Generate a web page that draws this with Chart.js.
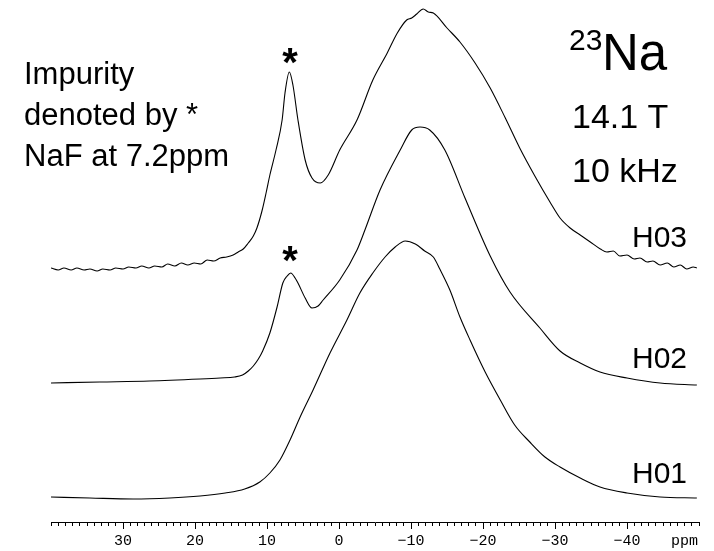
<!DOCTYPE html>
<html>
<head>
<meta charset="utf-8">
<script src="https://cdn.jsdelivr.net/npm/chart.js@4.4.1/dist/chart.umd.min.js"></script>
<style>
  html, body { margin: 0; padding: 0; background: #fff; }
</style>
</head>
<body>
<canvas id="grafico" width="714" height="551"></canvas>
<script>
// Espectros 23Na (ppm, intensidade relativa à linha de base)
const ppmH03 = [40.0, 39.0, 38.2, 37.2, 36.4, 35.4, 34.6, 33.6, 32.8, 31.8, 31.0, 30.0, 29.2, 28.2, 27.4, 26.4,
  25.6, 24.6, 23.8, 22.8, 21.9, 21.0, 20.1, 19.2, 18.3, 17.4, 16.5, 15.6, 14.7, 14.0, 13.3, 12.6, 11.9, 11.4,
  10.7, 10.1, 9.6, 8.75, 7.9, 7.5, 6.9, 6.4, 5.7, 4.7, 3.75, 2.6, 1.5, -0.1, -2.5, -4.7, -6.7, -8.1, -9.4,
  -10.1, -10.8, -11.7, -12.4, -13.1, -15.0, -16.8, -18.9, -21.0, -23.1, -25.1, -27.2, -29.3, -30.7, -32.1,
  -33.5, -34.9, -36.3, -37.2, -38.1, -39.0, -40.0, -41.0, -41.8, -42.8, -43.6, -44.6, -45.6, -46.5, -47.4,
  -48.3, -49.2, -49.7];
const intH03 = [0, -2, 0, -2, 0, -2, -1, -3, -1, -2, 0, -1, 1, 0, 2, 0,
  2, 1, 4, 2, 5, 3, 5, 4, 8, 7, 10, 11, 13, 16, 19, 25, 32, 40,
  57, 76, 93, 118, 148, 175, 196, 183, 148, 108, 90, 85, 93, 118, 148, 188, 215, 235, 248,
  250, 254, 259, 256, 255, 240, 226, 205, 180, 150, 120, 92, 66, 50, 40,
  33, 26, 19, 16, 17, 12, 13, 9, 10, 6, 7, 3, 5, 1, 3,
  -1, 1, 0];

const ppmH02 = [40.0, 33.2, 26.3, 19.3, 16.5, 14.5, 13.4, 12.6, 11.9, 11.2, 10.6, 9.6, 8.6, 7.8, 7.2, 6.7,
  6.1, 5.7, 4.7, 3.75, 2.9, 2.2, -0.1, -2.5, -3.6, -5.7, -8.5, -10.1, -11.25, -12.6, -14.7, -17.5, -21.0,
  -23.75, -27.9, -30.7, -33.5, -36.25, -40.0, -44.6, -49.7];
const intH02 = [1, 2, 3, 5, 6, 7, 9, 13, 18, 25, 33, 51, 77, 101, 108, 111,
  106, 101, 86, 76, 78, 84, 104, 134, 154, 194, 234, 254, 257, 254, 234, 186, 128,
  92, 56, 33, 21, 12, 6, 1, -1];

const ppmH01 = [40.0, 34.6, 28.6, 23.5, 19.3, 15.8, 13.1, 11.0, 9.6, 8.2, 6.8, 5.4, 3.6, 1.25, -1.1, -2.9,
  -4.7, -6.4, -7.8, -9.2, -10.6, -11.9, -13.1, -14.0, -15.4, -16.8, -18.2, -20.3, -22.4, -24.4, -26.5,
  -28.6, -30.7, -33.5, -36.25, -40.0, -44.6, -49.7];
const intH01 = [0, -1, -2, -1, 1, 4, 8, 15, 24, 37, 57, 80, 107, 144, 177, 204,
  224, 240, 250, 256, 253, 246, 240, 228, 207, 180, 157, 125, 97, 72, 55,
  40, 30, 19, 10, 4, 0, -1];

const amostras = ["H01", "H02", "H03"];
const ticksPrincipais = [30, 20, 10, 0, -10, -20, -30, -40];
const unidade = "ppm";
const notas = ["Impurity", "denoted by *", "NaF at 7.2ppm"];
const campo = ["14.1 T", "10 kHz"];

const deslocamento = [25, 138, 254]; // empilhamento vertical dos espectros

function pontos(ppm, intensidade, base) {
  return ppm.map((x, i) => ({ x, y: intensidade[i] + base }));
}

const sans = '"Liberation Sans", Arial, sans-serif';

const textos = {
  id: "textos",
  afterDraw(chart) {
    const ctx = chart.ctx;
    const xs = chart.scales.x;
    ctx.save();
    ctx.fillStyle = "#000";
    ctx.textBaseline = "alphabetic";

    ctx.textAlign = "left";
    ctx.font = "31px " + sans;
    notas.forEach((t, i) => ctx.fillText(t, 24, 84 + i * 41));

    ctx.font = "30px " + sans;
    ctx.fillText("23", 569, 50);
    ctx.font = "51px " + sans;
    ctx.fillText("Na", 602, 70);
    ctx.font = "34px " + sans;
    campo.forEach((t, i) => ctx.fillText(t, 572, 128 + i * 54));

    ctx.textAlign = "right";
    ctx.font = "30px " + sans;
    const ys = [483, 368, 247];
    amostras.forEach((t, i) => ctx.fillText(t, 687, ys[i]));

    ctx.textAlign = "center";
    ctx.font = "bold 40px " + sans;
    const xa = xs.getPixelForValue(6.8);
    ctx.fillText("*", xa, 76);
    ctx.fillText("*", xa, 274);
    ctx.restore();
  }
};

const series = [
  pontos(ppmH01, intH01, deslocamento[0]),
  pontos(ppmH02, intH02, deslocamento[1]),
  pontos(ppmH03, intH03, deslocamento[2])
];

const ctx = document.getElementById("grafico").getContext("2d");
new Chart(ctx, {
  type: "line",
  data: {
    datasets: series.map((d, i) => ({
      label: amostras[i],
      data: d,
      borderColor: "#000",
      borderWidth: 1.1,
      pointRadius: 0,
      fill: false,
      cubicInterpolationMode: "monotone"
    }))
  },
  options: {
    responsive: false,
    animation: false,
    layout: { padding: { left: 51, right: 15, top: 0, bottom: 0 } },
    plugins: { legend: { display: false }, tooltip: { enabled: false } },
    scales: {
      x: {
        type: "linear",
        reverse: true,
        min: -50,
        max: 40,
        afterFit: (s) => { s.height = 29; },
        border: { display: true, color: "#000", width: 1 },
        grid: {
          drawOnChartArea: false,
          drawTicks: true,
          tickLength: 7,
          tickColor: "#000",
          tickWidth: 1,
          tickBorderDash: (c) => (c.tick && ticksPrincipais.includes(c.tick.value)) ? [] : [3, 20]
        },
        ticks: {
          stepSize: 1,
          autoSkip: false,
          maxRotation: 0,
          minRotation: 0,
          padding: 3,
          color: "#000",
          font: { family: '"Liberation Mono", "Courier New", monospace', size: 15 },
          callback: (v) => {
            if (ticksPrincipais.includes(v)) return String(v).replace("-", "\u2212");
            if (v === -48) return unidade;
            return "";
          }
        }
      },
      y: {
        display: false,
        min: 0,
        max: 522
      }
    }
  },
  plugins: [textos]
});
</script>
</body>
</html>
